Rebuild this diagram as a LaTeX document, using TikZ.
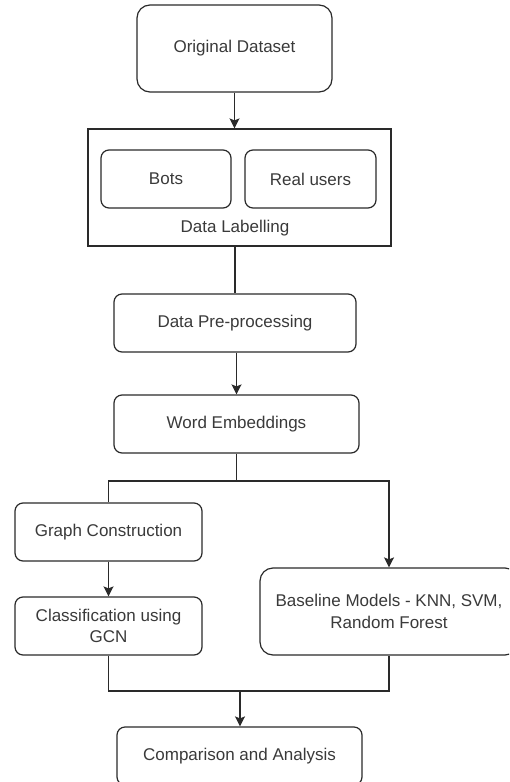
\documentclass[tikz,border=0pt]{standalone}
\usepackage{fontspec}
\setmainfont{Liberation Sans}
\usetikzlibrary{arrows.meta}
\definecolor{inkline}{HTML}{2A2A2A}
\definecolor{inktext}{HTML}{3A3A3A}
\tikzset{
  box/.style={draw=inkline, line width=1.2pt, rounded corners=8pt,
    text=inktext, align=center, inner sep=0pt,
    font=\fontsize{17}{21.5}\selectfont},
  bigbox/.style={box, rounded corners=13pt},
  frame/.style={draw=inkline, line width=1.2pt, inner sep=0pt},
  link/.style={draw=inkline, line width=1.2pt},
  arr/.style={link, -{Stealth[length=10pt,width=10pt,inset=2pt]}},
  caption/.style={text=inktext, font=\fontsize{17}{21.5}\selectfont}
}
\begin{document}
\begin{tikzpicture}[x=1pt,y=-1pt]
  \useasboundingbox (0,0) rectangle (509,782);
  \fill[white] (0,0) rectangle (509,782);
  \clip (0,0) rectangle (509,782);

  % source data
  \node[bigbox, minimum width=195pt, minimum height=87pt] (orig) at (234.5,48.5) {Original Dataset};

  % labelling stage with its two classes
  \node[frame, minimum width=303pt, minimum height=117pt] (label) at (239.5,187.5) {};
  \node[box, minimum width=130pt, minimum height=58pt] (bots) at (166,179) {Bots};
  \node[box, minimum width=131pt, minimum height=58pt] (real) at (310.5,179) {Real users};
  \node[caption] (labeltxt) at (235,228) {Data Labelling};

  % preparation steps
  \node[box, minimum width=242pt, minimum height=58pt] (pre) at (235,323) {Data Pre-processing};
  \node[box, minimum width=245pt, minimum height=58pt] (we) at (236.5,424) {Word Embeddings};

  % GCN branch
  \node[box, minimum width=187pt, minimum height=58pt] (graph) at (108.5,532) {Graph Construction};
  \node[box, minimum width=187pt, minimum height=58pt] (cls) at (108.5,626) {Classification using\\GCN};

  % baseline branch
  \node[bigbox, minimum width=258pt, minimum height=87pt] (base) at (389,611.5) {Baseline Models - KNN, SVM,\\Random Forest};

  % final stage
  \node[box, minimum width=245pt, minimum height=58pt] (comp) at (239.5,756) {Comparison and Analysis};

  \coordinate (split) at (236.5,481);
  \coordinate (merge) at (240,691);

  % connectors
  \draw[arr] (orig.south) -- (orig.south |- label.north);
  \draw[link] (label.south -| pre.north) -- (pre.north);
  \draw[arr] (pre.south -| 236.5,0) -- (we.north);
  \draw[link] (we.south) -- (split);
  \draw[link] (split) -| (graph.north);
  \draw[arr] (split) -| (base.north);
  \draw[arr] (graph.south) -- (cls.north);
  \draw[link] (cls.south) |- (merge) -| (base.south);
  \draw[arr] (merge) -- (merge |- comp.north);
\end{tikzpicture}
\end{document}
